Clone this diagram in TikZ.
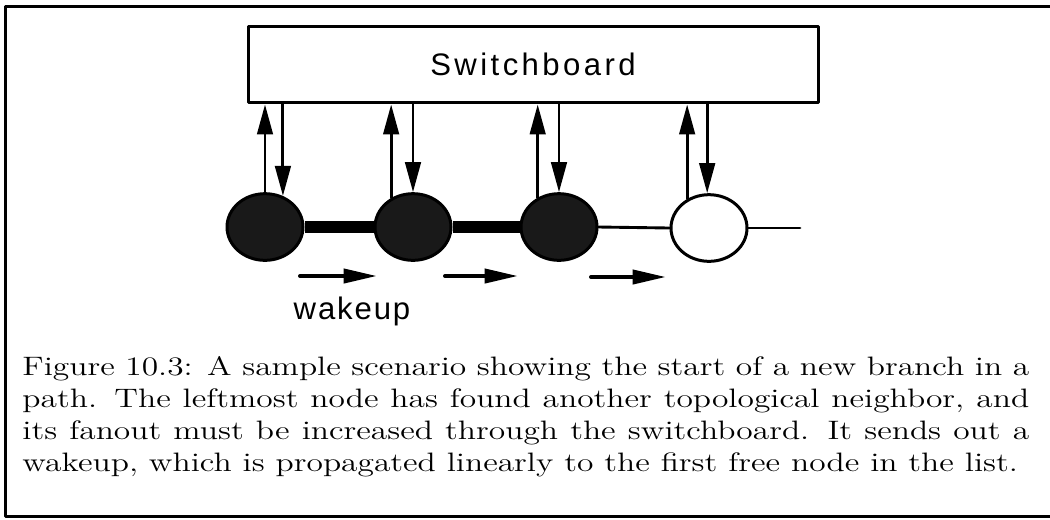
\documentclass[tikz,border=0pt]{standalone}
\usepackage{graphicx}
\usepackage{fontspec}
\newfontfamily\labelfont[LetterSpace=6]{Liberation Sans}
\newfontfamily\boardfont[LetterSpace=11]{Liberation Sans}
\usetikzlibrary{arrows.meta,shapes.geometric}

\begin{document}
\begin{tikzpicture}[
  x=0.45pt, y=-0.45pt,
  line cap=round,
  line join=round,
  >={Triangle[length=13.5pt,width=7pt]},
  frame/.style={line width=1.35pt},
  board/.style={draw,line width=1.35pt,minimum width=256.5pt,minimum height=34.6pt,
    inner sep=0pt,font=\boardfont\fontsize{14}{16}\selectfont},
  busy/.style={ellipse,draw,line width=1.35pt,fill=black!90,minimum width=34.2pt,
    minimum height=30pt,inner sep=0pt},
  free/.style={busy,fill=white},
  link/.style={line width=1.3pt},
  chain/.style={line width=5.4pt,line cap=butt},
  wake/.style={line width=1.8pt,-{Triangle[length=15pt,width=6.3pt]}}
]
\useasboundingbox (0,0) rectangle (1050,519);

% ------------------------------------------------------------------
% Frame
% ------------------------------------------------------------------
\draw[frame] (1050,6) -- (5,6) -- (5,516) -- (1050,516);

% ------------------------------------------------------------------
% Switchboard and nodes
% ------------------------------------------------------------------
\node[board] (sb) at (533,64.5) {Switchboard};

\node[busy] (n1) at (265,227) {};
\node[busy] (n2) at (413,227) {};
\node[busy] (n3) at (559,227) {};
\node[free] (n4) at (709,228) {};
\coordinate (tail) at (800,228);

\draw[chain] (n1.east) -- (n2.west);
\draw[chain] (n2.east) -- (n3.west);
\draw[link] (n3.east) -- (n4.west);
\draw[link] (n4.east) -- (tail);

% up / down pairs
\foreach \i/\u/\d in {1/90/60, 2/127/90, 3/126/90, 4/127/93}{
  \draw[link,->] (n\i.\u) -- (n\i.\u |- sb.south);
  \draw[link,->] (n\i.\d |- sb.south) -- (n\i.\d);
}

% ------------------------------------------------------------------
% Wakeup
% ------------------------------------------------------------------
\coordinate (w1a) at (300,276);  \coordinate (w1b) at (377,276);
\coordinate (w2a) at (445,276);  \coordinate (w2b) at (518,276);
\coordinate (w3a) at (591,277);  \coordinate (w3b) at (666,277);
\draw[wake] (w1a) -- (w1b);
\draw[wake] (w2a) -- (w2b);
\draw[wake] (w3a) -- (w3b);
\node[font=\labelfont\fontsize{14}{16}\selectfont] (wk) at (352,311) {wakeup};

% ------------------------------------------------------------------
% Caption
% ------------------------------------------------------------------
\node[anchor=north west,inner sep=0pt] (cap) at (22,356)
  {\scalebox{1.255}[1]{\parbox{361pt}{\fontsize{12}{14.4}\selectfont
   Figure 10.3: A sample scenario showing the start of a new branch in a\linebreak
   path.  The leftmost node has found another topological neighbor, and\linebreak
   its fanout must be increased through the switchboard.  It sends out a\linebreak
   wakeup, which is propagated linearly to the first free node in the list.}}};
\end{tikzpicture}
\end{document}
